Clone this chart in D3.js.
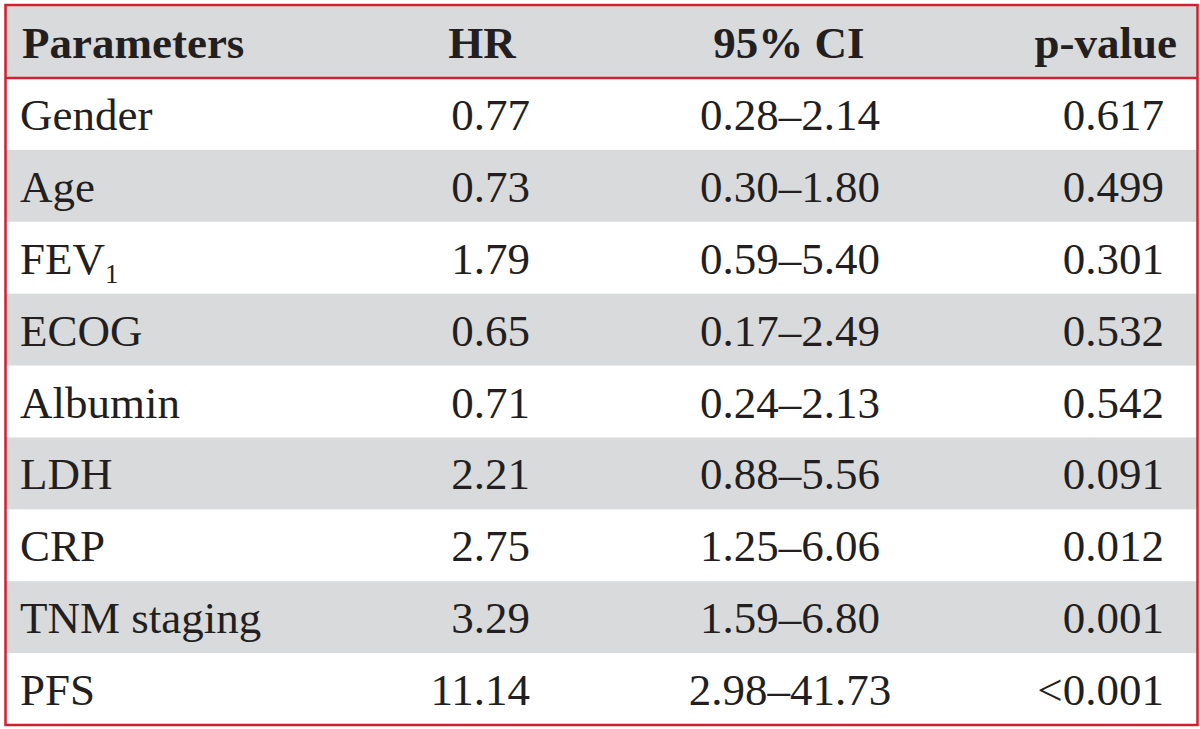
<!DOCTYPE html>
<html>
<head>
<meta charset="utf-8">
<script src="https://cdn.jsdelivr.net/npm/d3@7"></script>
<style>
  html, body { margin: 0; padding: 0; background: #ffffff; }
  svg { display: block; }
  text { font-family: "Liberation Serif", "Times New Roman", serif; fill: #231f20; }
</style>
</head>
<body>
<svg id="chart" width="1200" height="729"></svg>
<script>
// ---- data ----
const headers = ["Parameters", "HR", "95% CI", "p-value"];
const parameters = ["Gender", "Age", "FEV1", "ECOG", "Albumin", "LDH", "CRP", "TNM staging", "PFS"];
const hrValues = ["0.77", "0.73", "1.79", "0.65", "0.71", "2.21", "2.75", "3.29", "11.14"];
const ciValues = ["0.28–2.14", "0.30–1.80", "0.59–5.40", "0.17–2.49", "0.24–2.13", "0.88–5.56", "1.25–6.06", "1.59–6.80", "2.98–41.73"];
const pValues = ["0.617", "0.499", "0.301", "0.532", "0.542", "0.091", "0.012", "0.001", "<0.001"];

// ---- layout ----
const tblLeft = 5.5, tblRight = 1197.5, tblTop = 5, tblBottom = 725;
const headerBottom = 78;
const red = "#d1202f", grey = "#d9dadc";

const svg = d3.select("#chart");

const rowScale = d3.scaleBand()
  .domain(d3.range(parameters.length))
  .range([headerBottom, tblBottom])
  .paddingInner(0).paddingOuter(0);

// header background
svg.append("rect")
  .attr("x", tblLeft).attr("y", tblTop)
  .attr("width", tblRight - tblLeft).attr("height", headerBottom - tblTop)
  .attr("fill", grey);

// striped rows
svg.append("g").selectAll("rect")
  .data(d3.range(parameters.length).filter(i => i % 2 === 1))
  .join("rect")
  .attr("x", tblLeft).attr("y", i => rowScale(i))
  .attr("width", tblRight - tblLeft).attr("height", rowScale.bandwidth())
  .attr("fill", grey);

// columns: x anchor and alignment
const cols = [
  { hx: 22, ha: "start", x: 20, a: "start" },
  { hx: 482, ha: "middle", x: 530, a: "end" },
  { hx: 789, ha: "middle", x: 790, a: "middle" },
  { hx: 1177, ha: "end", x: 1164, a: "end" }
];

// header text
svg.append("g").selectAll("text")
  .data(headers)
  .join("text")
  .attr("x", (d, i) => cols[i].hx)
  .attr("y", 58)
  .attr("text-anchor", (d, i) => cols[i].ha)
  .attr("font-size", 45)
  .attr("font-weight", "bold")
  .text(d => d);

// body
const rows = parameters.map((p, i) => [p, hrValues[i], ciValues[i], pValues[i]]);
const rowG = svg.append("g").selectAll("g")
  .data(rows)
  .join("g")
  .attr("transform", (d, i) => `translate(0,${rowScale(i) + rowScale.bandwidth() / 2 + 16})`);

rowG.each(function (row) {
  const g = d3.select(this);
  row.forEach((val, j) => {
    const t = g.append("text")
      .attr("x", cols[j].x)
      .attr("y", 0)
      .attr("text-anchor", cols[j].a)
      .attr("font-size", 45);
    if (j === 0 && val === "FEV1") {
      t.append("tspan").text("FEV");
      t.append("tspan").attr("font-size", 27).attr("dy", 9).text("1");
    } else {
      t.text(val);
    }
  });
});

// header bottom red line
svg.append("line")
  .attr("x1", tblLeft).attr("x2", tblRight)
  .attr("y1", headerBottom).attr("y2", headerBottom)
  .attr("stroke", red).attr("stroke-width", 2.5);

// outer border
svg.append("rect")
  .attr("x", tblLeft).attr("y", tblTop)
  .attr("width", tblRight - tblLeft).attr("height", tblBottom - tblTop)
  .attr("fill", "none")
  .attr("stroke", red).attr("stroke-width", 2.5);
</script>
</body>
</html>
